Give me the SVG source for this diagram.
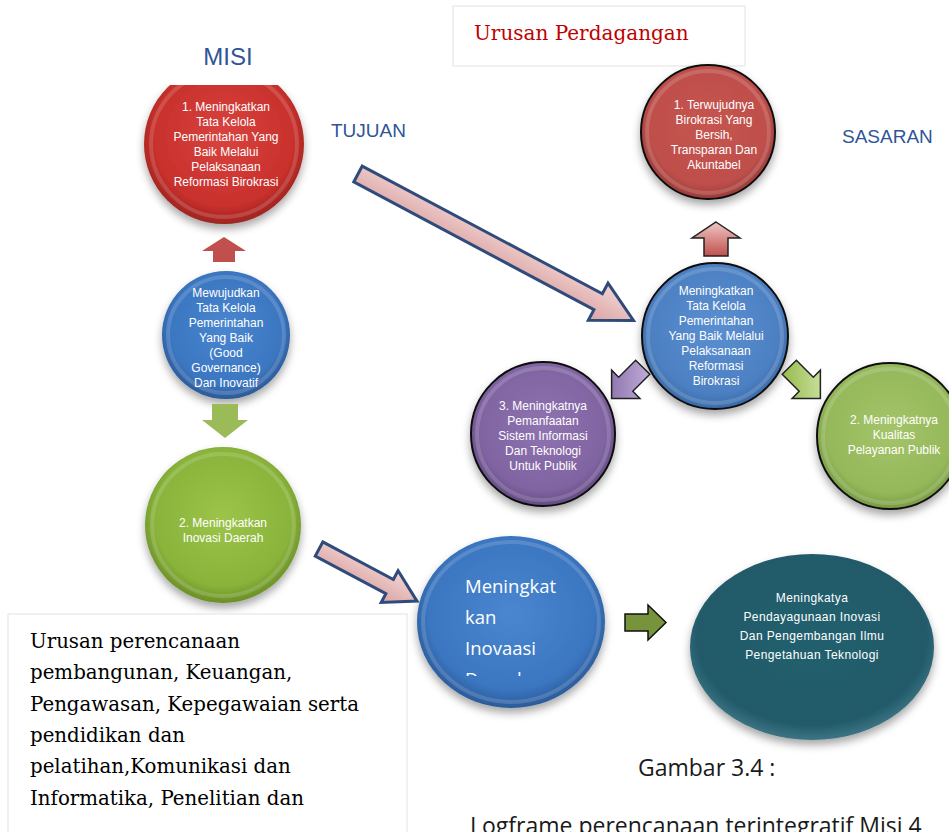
<svg xmlns="http://www.w3.org/2000/svg" width="949" height="832" viewBox="0 0 949 832">
  <style>
    .lbl { font-family: "Liberation Sans", Arial, sans-serif; font-size: 12px; fill: #ffffff; text-anchor: middle; }
    .head { font-family: "Liberation Sans", Arial, sans-serif; fill: #2f5597; }
    .serif { font-family: "DejaVu Serif", "Liberation Serif", serif; }
    .cap { font-family: "Open Sans", "Liberation Sans", sans-serif; font-size: 23px; fill: #1a1a1a; }
    .box { fill: #ffffff; stroke: #ececec; stroke-width: 1.5; }
    .ring { fill: none; stroke: #ffffff; stroke-opacity: 0.15; stroke-width: 4; }
    .outline { stroke: #111111; stroke-width: 2; }
    .bigArrow { fill: url(#pinkArrow); stroke: #2f4b7c; stroke-width: 3; stroke-linejoin: miter; }
  </style>
  <defs>
    <filter id="shadow" x="-20%" y="-20%" width="140%" height="150%">
      <feDropShadow dx="0" dy="5" stdDeviation="4" flood-color="#000000" flood-opacity="0.35"/>
    </filter>
    <radialGradient id="gRed" cx="50%" cy="45%" r="55%">
      <stop offset="0" stop-color="#d8433f"/>
      <stop offset="0.8" stop-color="#c8302c"/>
      <stop offset="1" stop-color="#9e2420"/>
    </radialGradient>
    <radialGradient id="gRed2" cx="50%" cy="45%" r="55%">
      <stop offset="0" stop-color="#c5544f"/>
      <stop offset="0.8" stop-color="#bf4f4b"/>
      <stop offset="1" stop-color="#9a3a37"/>
    </radialGradient>
    <radialGradient id="gBlue" cx="50%" cy="45%" r="55%">
      <stop offset="0" stop-color="#4a86cf"/>
      <stop offset="0.8" stop-color="#3b76c1"/>
      <stop offset="1" stop-color="#2b5a98"/>
    </radialGradient>
    <radialGradient id="gBlue2" cx="50%" cy="45%" r="55%">
      <stop offset="0" stop-color="#5a8fd0"/>
      <stop offset="0.8" stop-color="#4c80c2"/>
      <stop offset="1" stop-color="#3a6aa8"/>
    </radialGradient>
    <radialGradient id="gGreen" cx="50%" cy="45%" r="55%">
      <stop offset="0" stop-color="#9cc44a"/>
      <stop offset="0.8" stop-color="#89b33a"/>
      <stop offset="1" stop-color="#6a8f28"/>
    </radialGradient>
    <radialGradient id="gGreen2" cx="50%" cy="45%" r="55%">
      <stop offset="0" stop-color="#a4c46a"/>
      <stop offset="0.8" stop-color="#95b85a"/>
      <stop offset="1" stop-color="#779a42"/>
    </radialGradient>
    <radialGradient id="gPurple" cx="50%" cy="45%" r="55%">
      <stop offset="0" stop-color="#8f73b0"/>
      <stop offset="0.8" stop-color="#8064a2"/>
      <stop offset="1" stop-color="#634b83"/>
    </radialGradient>
    <radialGradient id="gTeal" cx="50%" cy="45%" r="55%">
      <stop offset="0" stop-color="#24606f"/>
      <stop offset="0.85" stop-color="#215a69"/>
      <stop offset="1" stop-color="#3d7584"/>
    </radialGradient>
    <linearGradient id="pinkArrow" x1="0" y1="0" x2="0" y2="1">
      <stop offset="0" stop-color="#f2d4d3"/>
      <stop offset="1" stop-color="#d9a3a2"/>
    </linearGradient>
    <linearGradient id="gPinkUp" x1="0" y1="0" x2="0" y2="1">
      <stop offset="0" stop-color="#f0c8c6"/>
      <stop offset="1" stop-color="#c0504d"/>
    </linearGradient>
    <linearGradient id="gPurpleArr" x1="0" y1="0" x2="1" y2="1">
      <stop offset="0" stop-color="#c9b6e0"/>
      <stop offset="1" stop-color="#8064a2"/>
    </linearGradient>
    <linearGradient id="gGreenArr" x1="1" y1="0" x2="0" y2="1">
      <stop offset="0" stop-color="#dbeab8"/>
      <stop offset="1" stop-color="#8cb43c"/>
    </linearGradient>
    <clipPath id="topCut">
      <rect x="0" y="85" width="949" height="747"/>
    </clipPath>
    <clipPath id="innovClip">
      <rect x="440" y="560" width="160" height="116"/>
    </clipPath>
  </defs>

  <rect width="949" height="832" fill="#ffffff"/>

  <!-- headings -->
  <text class="head" x="228" y="65" font-size="24" text-anchor="middle">MISI</text>
  <text class="head" x="331" y="137" font-size="19">TUJUAN</text>
  <text class="head" x="842" y="143" font-size="19">SASARAN</text>

  <g id="urusan-perdagangan">
    <rect class="box" x="453" y="6" width="292" height="60"/>
    <text class="serif" x="474" y="40" font-size="20" fill="#c00000">Urusan Perdagangan</text>
  </g>

  <!-- MISI column -->
  <g id="misi-1">
    <g clip-path="url(#topCut)">
      <circle cx="224" cy="144" r="80" fill="url(#gRed)" filter="url(#shadow)"/>
      <circle class="ring" cx="224" cy="144" r="73"/>
    </g>
    <text class="lbl"><tspan x="226" y="111">1. Meningkatkan</tspan><tspan x="226" y="126">Tata Kelola</tspan><tspan x="226" y="141">Pemerintahan Yang</tspan><tspan x="226" y="156">Baik Melalui</tspan><tspan x="226" y="171">Pelaksanaan</tspan><tspan x="226" y="186">Reformasi Birokrasi</tspan></text>
  </g>

  <g id="visi">
    <circle cx="226" cy="335" r="64" fill="url(#gBlue)" filter="url(#shadow)"/>
    <circle class="ring" cx="226" cy="335" r="58"/>
    <text class="lbl"><tspan x="226" y="297">Mewujudkan</tspan><tspan x="226" y="312">Tata Kelola</tspan><tspan x="226" y="327">Pemerintahan</tspan><tspan x="226" y="342">Yang Baik</tspan><tspan x="226" y="357">(Good</tspan><tspan x="226" y="372">Governance)</tspan><tspan x="226" y="387">Dan Inovatif</tspan></text>
  </g>

  <g id="misi-2">
    <circle cx="223" cy="525" r="78" fill="url(#gGreen)" filter="url(#shadow)"/>
    <circle class="ring" cx="223" cy="525" r="71"/>
    <text class="lbl"><tspan x="223" y="527">2. Meningkatkan</tspan><tspan x="223" y="542">Inovasi Daerah</tspan></text>
  </g>

  <!-- SASARAN cluster -->
  <g id="sasaran-1">
    <circle class="outline" cx="708" cy="132" r="67" fill="url(#gRed2)" filter="url(#shadow)"/>
    <circle class="ring" cx="708" cy="132" r="61"/>
    <text class="lbl"><tspan x="714" y="109">1. Terwujudnya</tspan><tspan x="714" y="124">Birokrasi Yang</tspan><tspan x="714" y="139">Bersih,</tspan><tspan x="714" y="154">Transparan Dan</tspan><tspan x="714" y="169">Akuntabel</tspan></text>
  </g>

  <g id="tujuan-1">
    <circle class="outline" cx="715" cy="336" r="73" fill="url(#gBlue2)" filter="url(#shadow)"/>
    <circle class="ring" cx="715" cy="336" r="67"/>
    <text class="lbl"><tspan x="716" y="295">Meningkatkan</tspan><tspan x="716" y="310">Tata Kelola</tspan><tspan x="716" y="325">Pemerintahan</tspan><tspan x="716" y="340">Yang Baik Melalui</tspan><tspan x="716" y="355">Pelaksanaan</tspan><tspan x="716" y="370">Reformasi</tspan><tspan x="716" y="385">Birokrasi</tspan></text>
  </g>

  <g id="sasaran-3">
    <circle class="outline" cx="543" cy="434" r="72" fill="url(#gPurple)" filter="url(#shadow)"/>
    <circle class="ring" cx="543" cy="434" r="66"/>
    <text class="lbl"><tspan x="543" y="410">3. Meningkatnya</tspan><tspan x="543" y="425">Pemanfaatan</tspan><tspan x="543" y="440">Sistem Informasi</tspan><tspan x="543" y="455">Dan Teknologi</tspan><tspan x="543" y="470">Untuk Publik</tspan></text>
  </g>

  <g id="sasaran-2">
    <circle class="outline" cx="890" cy="436" r="73" fill="url(#gGreen2)" filter="url(#shadow)"/>
    <circle class="ring" cx="890" cy="436" r="67"/>
    <text class="lbl"><tspan x="894" y="424">2. Meningkatnya</tspan><tspan x="894" y="439">Kualitas</tspan><tspan x="894" y="454">Pelayanan Publik</tspan></text>
  </g>

  <!-- bottom row -->
  <g id="tujuan-2">
    <ellipse cx="511" cy="622" rx="94" ry="86" fill="url(#gBlue)" filter="url(#shadow)"/>
    <ellipse class="ring" cx="511" cy="622" rx="88" ry="80"/>
    <text clip-path="url(#innovClip)" font-family="'Open Sans', 'Liberation Sans', sans-serif" font-size="18.5" fill="#ffffff"><tspan x="465" y="593">Meningkat</tspan><tspan x="465" y="624">kan</tspan><tspan x="465" y="655">Inovaasi</tspan><tspan x="465" y="686">Daerah</tspan></text>
  </g>

  <g id="sasaran-4">
    <ellipse cx="812" cy="647" rx="122" ry="93" fill="url(#gTeal)" filter="url(#shadow)"/>
    <text class="lbl" font-size="13.5" letter-spacing="0.4"><tspan x="812" y="602">Meningkatya</tspan><tspan x="812" y="621">Pendayagunaan Inovasi</tspan><tspan x="812" y="640">Dan Pengembangan Ilmu</tspan><tspan x="812" y="659">Pengetahuan Teknologi</tspan></text>
  </g>

  <g id="urusan-lain">
    <rect class="box" x="8" y="614" width="399" height="230"/>
    <text class="serif" font-size="19.8" fill="#000000"><tspan x="30" y="648">Urusan perencanaan</tspan><tspan x="30" y="679">pembangunan,  Keuangan,</tspan><tspan x="30" y="711">Pengawasan, Kepegawaian serta</tspan><tspan x="30" y="742">pendidikan dan</tspan><tspan x="30" y="773">pelatihan,Komunikasi dan</tspan><tspan x="30" y="805">Informatika,  Penelitian dan</tspan></text>
  </g>

  <g id="caption">
    <text class="cap" x="638" y="776">Gambar 3.4 :</text>
    <text class="cap" x="470" y="834">Logframe perencanaan terintegratif Misi 4</text>
  </g>

  <!-- connectors -->
  <g id="connectors">
    <!-- MISI column arrows -->
    <polygon points="224,237 246,251 235,251 235,262 213,262 213,251 202,251" fill="#c0504d"/>
    <polygon points="212,404 238,404 238,420 248,420 225,438 202,420 212,420" fill="#9bbb59"/>
    <!-- long diagonal arrow into TUJUAN -->
    <polygon class="bigArrow" transform="translate(358,174) rotate(28)" points="0,-9 272,-9 272,-21 312,0 272,21 272,9 0,9"/>
    <!-- short diagonal arrow into bottom TUJUAN -->
    <polygon class="bigArrow" transform="translate(319,549) rotate(28)" points="0,-8 80,-8 80,-18 111,0 80,18 80,8 0,8"/>
    <!-- TUJUAN to SASARAN arrows -->
    <polygon points="716,222 740,238 728,238 728,256 704,256 704,238 692,238" fill="url(#gPinkUp)" stroke="#222222" stroke-width="1.5"/>
    <polygon transform="translate(630,380) rotate(135)" points="-18,-10 6,-10 6,-20 26,0 6,20 6,10 -18,10" fill="url(#gPurpleArr)" stroke="#222222" stroke-width="1.5"/>
    <polygon transform="translate(802,380) rotate(45)" points="-18,-10 6,-10 6,-20 26,0 6,20 6,10 -18,10" fill="url(#gGreenArr)" stroke="#222222" stroke-width="1.5"/>
    <!-- bottom arrow -->
    <polygon points="625,614 648,614 648,605 666,622.5 648,640 648,631 625,631" fill="#77933c" stroke="#111111" stroke-width="1.5"/>
  </g>
</svg>
